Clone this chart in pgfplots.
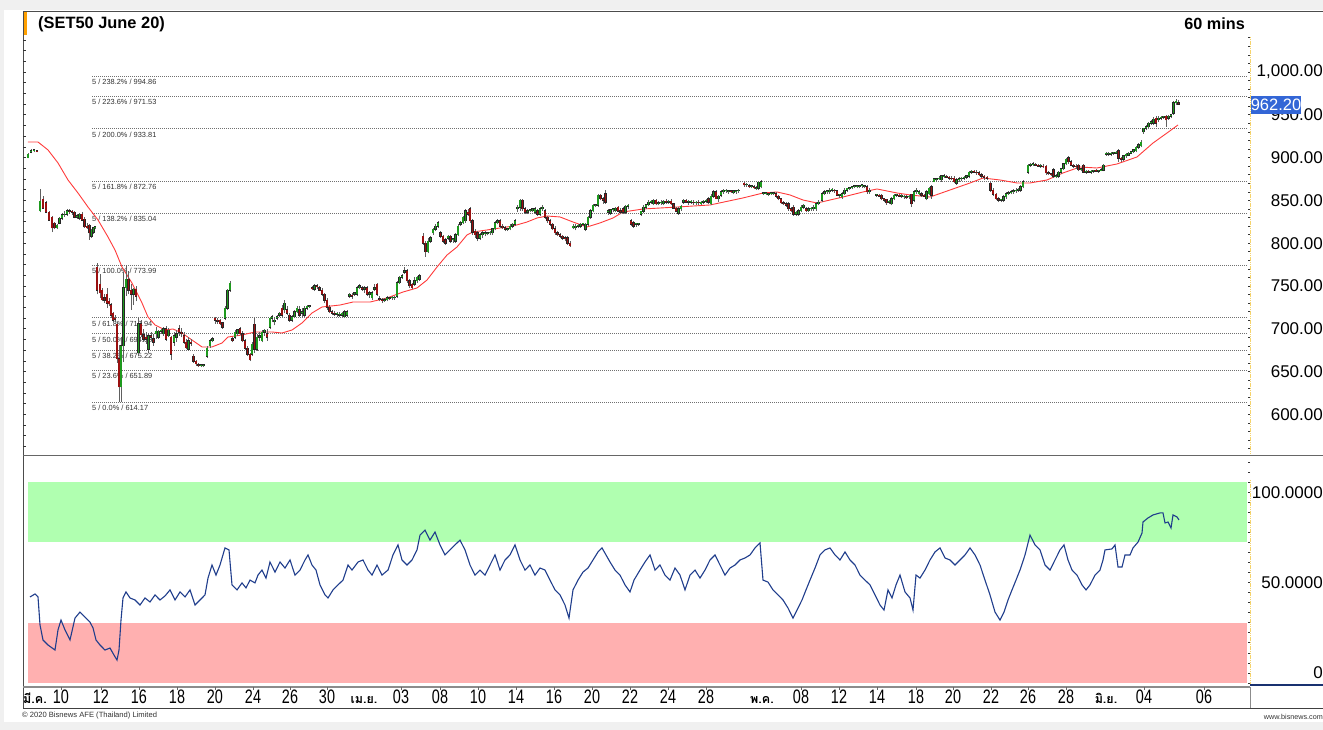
\documentclass[border=0pt]{standalone}
\usepackage{pgfplots}
\pgfplotsset{compat=1.18}
\usepackage{pgfplotstable}
\usepackage{fontspec}
\setmainfont{Liberation Sans}
\newfontfamily\narrowfont[FakeStretch=0.74]{Liberation Sans}
\newfontfamily\thaifont[Script=Thai]{Loma}
\definecolor{bggray}{HTML}{F0F0F0}
\definecolor{upcol}{HTML}{1E9A1E}
\definecolor{downcol}{HTML}{9A1010}
\definecolor{wickcol}{HTML}{606060}
\definecolor{macol}{HTML}{FF3B3B}
\definecolor{rsicol}{HTML}{1F3D8C}
\definecolor{bandgreen}{HTML}{B0FFB0}
\definecolor{bandred}{HTML}{FFB0B0}
\definecolor{fibcol}{HTML}{707070}
\definecolor{tagblue}{HTML}{3366D6}
\definecolor{goldline}{HTML}{F5D36B}
\definecolor{orangebar}{HTML}{FFA000}

\pgfplotstableread{
x o h l c
28 900 905 899 904
31 906 910 905 908
34 908 910 906 908
37 908 909 906 907
40 838 863 836 849
43 851 855 840 841
46 847 849 835 836
49 836 838 826 827
52 830 832 813 818
54.5 823 825 816 818
57 818 822 816 821
59.5 823 830 822 829
62 829 835 827 833
64.5 833 837 831 834
67 834 840 832 838
69.5 838 840 834 837
72 837 839 833 836
74.5 836 838 829 830
77 830 834 828 832
79.5 829 835 827 834
82 834 836 826 827
84.5 828 830 818 819
87 820 823 817 818
89.5 821 822 804 812
91.5 808 816 806 815
93.5 813 819 811 818
95 818 819 816 818
97 772 777 740 745
100 752 764 736 742
102 745 748 732 734
104.5 736 740 730 733
107 740 748 724 730
109 732 736 726 729
111 728 730 712 716
113 718 720 708 710
115 712 716 708 711
117 705 708 660 665
119 665 681 614 632
121 632 690 614 680
123.5 680 766 661 748
126 748 775 738 758
128.5 758 768 740 745
131 745 752 722 740
133.5 740 748 728 746
136 746 750 732 738
138.5 672 712 668 706
141 706 710 690 693
143.5 693 700 685 688
146 690 696 682 688
148.5 676 695 672 692
151 692 696 686 690
153.5 688 694 680 684
156 694 702 688 697
158.5 690 699 688 697
161 697 700 694 698
163.5 694 702 692 700
166 700 703 686 688
168.5 692 701 690 698
171 690 692 664 670
174 684 696 680 692
176.5 690 698 685 694
179 700 704 692 696
181.5 696 701 690 694
184 692 696 682 684
186 684 688 676 678
188.5 676 690 674 686
191 684 688 680 683
193.5 668 670 660 662
196 662 664 657 659
198.5 658 660 655 657
201 657 659 655 657
203.5 657 658 655 657
207 668 680 666 677
210 680 688 678 686
212.5 686 690 684 688
215 712 714 706 710
217.5 710 712 706 709
220 710 711 704 706
222.5 707 708 700 702
225 712 726 710 724
227.5 724 746 722 745
230 745 756 743 753
232.5 688 690 684 686
235 690 698 688 696
237.5 694 700 692 699
240 700 702 693 694
242.5 694 697 684 686
245 686 688 675 677
247.5 677 680 668 670
250 670 672 662 664
252 670 684 668 682
254.5 705 712 672 676
257 676 694 674 690
259.5 690 696 686 692
262 686 698 684 696
264.5 696 700 692 698
267 694 700 686 690
270 702 714 700 712
272 712 716 708 714
274.5 708 714 704 710
277 712 716 710 714
279.5 716 720 714 718
282 724 728 714 716
284.5 722 734 718 730
287 722 726 716 718
289.5 716 718 708 710
292 710 716 708 714
294.5 714 722 712 720
297 720 726 718 724
299.5 722 726 714 716
302 718 724 714 720
304.5 716 726 714 724
307 724 728 722 726
309.5 726 728 724 726
312 748 750 745 747
314.5 746 752 744 750
317 750 752 747 749
319.5 748 750 744 745
322 745 748 738 740
324.5 740 742 730 733
327 733 736 722 725
329.5 725 728 718 720
332 720 722 716 718
334.5 718 721 715 717
337 717 720 714 718
339.5 716 720 714 717
342 716 720 714 718
344.5 714 722 712 720
347 716 722 714 720
349.5 738 742 736 740
352 739 742 735 738
354.5 740 743 738 742
357 740 750 738 748
359.5 748 752 746 750
362 748 750 744 746
364.5 746 750 742 748
367 748 750 738 740
369.5 740 744 736 742
372 736 744 734 742
374.5 746 752 744 748
377 752 754 738 740
379.5 735 738 732 734
382 734 736 730 733
384.5 733 736 731 734
387 734 738 732 736
389.5 736 737 733 735
392 736 738 734 736
394.5 736 738 734 737
397 738 756 736 754
399.5 754 762 752 760
402 760 764 758 762
404.5 766 772 764 768
407 768 770 754 756
409.5 756 758 748 750
412 752 754 746 748
414.5 752 760 750 756
417 756 762 754 760
419.5 758 764 756 762
423 808 812 798 800
425.5 800 802 784 790
428 790 806 788 802
430.5 802 808 800 806
433 812 818 810 816
435.5 816 822 814 820
438 820 826 818 824
440.5 812 814 806 808
443 808 810 800 802
445.5 804 806 798 800
448 806 810 804 808
450.5 808 810 800 802
453 804 806 800 805
455.5 802 812 800 810
458 810 822 808 820
460.5 822 826 820 824
463 824 832 822 830
465.5 826 840 824 838
468 836 840 832 834
470 840 842 824 826
472.5 826 828 810 813
475 814 816 806 810
477.5 812 814 802 806
480 806 812 804 810
482.5 810 814 806 812
485 811 814 808 812
487.5 811 813 809 811
490 812 814 810 812
492.5 812 818 810 817
495 817 826 815 824
497.5 824 828 822 826
500 826 828 818 820
502.5 820 822 816 818
505 818 820 814 816
507.5 816 818 814 817
510 817 822 815 820
512.5 820 824 818 822
515 822 828 820 826
517.5 840 844 836 842
520 842 852 838 850
522.5 850 852 838 840
525 840 842 834 836
527.5 836 840 834 838
530 838 840 836 838
532.5 838 841 836 840
535 836 842 834 840
537.5 838 840 832 834
540 834 842 832 840
542.5 840 844 838 842
545 838 840 828 830
547.5 830 832 824 826
550 826 828 820 822
552.5 822 824 815 817
555 817 820 810 812
557.5 812 814 808 810
560 810 812 806 808
562.5 808 810 804 806
565 806 808 802 805
567.5 806 808 798 800
570 800 802 796 797
573 818 822 816 820
575.5 818 822 815 820
578 820 822 818 821
580.5 820 824 818 822
583 822 824 820 823
585.5 816 824 814 822
588 822 832 820 830
590.5 830 840 828 838
593 838 846 836 844
595.5 844 846 842 845
598 844 858 842 856
600.5 856 858 850 852
603 852 854 846 850
605.5 858 862 846 848
608 836 840 833 838
610.5 835 840 833 839
613 839 841 836 840
615.5 838 842 836 841
618 842 843 836 837
620.5 838 841 834 836
623 840 842 834 836
625.5 836 845 834 843
628 843 846 840 844
631 826 828 820 822
633.5 824 826 818 820
636 822 824 819 822
638.5 822 824 820 823
641 834 838 832 837
643.5 837 844 835 842
646 842 846 840 845
648.5 845 850 843 848
651 848 850 846 849
653.5 846 852 844 850
656 850 851 844 846
658.5 846 849 844 847
661 847 850 845 848
663.5 846 850 844 849
666 849 851 846 848
668.5 848 850 846 849
671 849 851 845 846
673.5 846 847 840 841
676 841 842 836 837
678.5 835 842 833 840
681 840 845 838 843
683.5 848 851 846 850
686 850 851 847 848
688.5 848 850 844 849
691 848 850 846 849
693.5 848 850 845 847
696 847 849 845 848
698.5 848 850 845 847
701 846 849 844 848
703.5 848 850 846 849
706 849 851 847 850
708.5 852 854 846 848
711 846 857 844 855
713.5 855 862 853 860
716 860 862 851 852
718.5 852 856 848 855
721 856 862 854 860
723.5 860 863 858 862
726 861 863 859 862
728.5 860 862 858 861
731 861 862 859 860
733.5 859 862 857 861
736 860 862 858 861
738.5 861 863 859 862
744 870 872 866 868
746.5 868 870 866 868
749 867 869 865 866
751.5 866 868 864 866
754 866 868 863 865
756.5 864 867 862 865
758.5 864 872 862 871
761 866 874 864 872
763.5 858 860 856 858
766 858 860 856 858
768.5 857 859 855 857
771 858 860 856 858
773.5 858 860 856 859
776 858 860 853 855
778.5 855 856 850 852
781 852 853 846 847
783.5 847 849 844 846
786 846 848 842 844
788.5 846 848 838 840
791 840 842 836 838
793.5 842 844 832 834
796 834 838 832 836
798.5 834 840 832 838
801 838 844 836 842
803.5 842 846 840 844
806 840 842 836 838
808.5 838 842 836 840
811 840 842 838 841
813.5 840 844 838 842
816 840 848 838 846
818.5 846 850 844 848
822 850 860 848 858
824.5 858 862 856 860
827 860 862 858 860
829.5 860 864 858 862
832 862 864 860 862
834.5 862 863 859 861
837 861 862 855 856
839.5 856 858 853 856
842 854 860 852 858
844.5 858 864 856 862
847 862 865 860 864
849.5 864 866 862 865
852 865 867 863 866
854.5 866 868 864 867
857 866 868 864 866
859.5 866 868 864 867
862 867 869 865 868
864.5 866 868 864 866
867 866 868 858 860
869.5 860 864 858 862
876.5 856 858 854 856
879 856 858 854 855
881.5 856 857 850 852
884 852 853 848 850
886.5 851 852 845 847
889 848 850 846 849
891.5 846 854 844 852
894 852 858 850 856
896.5 856 858 854 857
899 856 858 854 855
901.5 855 857 853 856
904 854 856 852 854
906.5 854 856 852 853
909 854 856 852 855
911.5 857 858 842 846
914 850 862 848 860
916.5 860 864 858 862
919 858 862 856 860
921.5 858 860 854 856
924 856 858 854 855
926.5 852 862 850 860
929 858 866 856 864
931.5 866 868 852 856
934 872 876 871 875
936.5 874 876 872 875
939 875 878 874 876
941.5 874 880 872 879
944 878 881 876 879
946.5 878 880 876 877
949 877 879 874 876
951.5 876 878 874 875
954 876 878 870 872
956.5 870 876 868 874
959 874 877 872 875
961.5 875 877 873 876
964 876 878 874 877
966.5 877 880 875 879
969 878 884 876 883
971.5 883 886 881 884
974 884 886 882 883
976.5 883 886 880 882
979 882 884 878 880
981.5 880 882 876 878
984 878 880 874 877
987 877 879 874 876
990.5 870 872 860 862
993 862 864 855 857
996 857 859 850 852
998.5 852 854 848 850
1001 850 852 848 851
1003.5 850 856 848 854
1006 854 860 852 858
1008.5 858 861 856 859
1011 859 862 857 860
1013.5 860 863 858 861
1016 861 864 859 862
1018.5 862 864 860 863
1020.5 862 868 860 866
1023 866 874 864 872
1028 883 893 881 891
1030.5 891 894 889 892
1033 892 895 890 893
1035.5 892 894 890 891
1038 891 893 889 890
1040.5 890 892 888 890
1043 890 892 888 889
1046 890 891 880 882
1048.5 882 884 880 881
1051 881 882 878 880
1053.5 886 888 876 878
1056 878 881 876 879
1058.5 878 884 876 883
1061 883 888 881 887
1063.5 887 894 885 893
1066 893 900 891 898
1068.5 900 902 893 895
1071 895 897 890 891
1073.5 891 893 888 890
1076 890 892 887 889
1078.5 891 892 884 886
1081 886 888 884 887
1083.5 891 892 882 883
1086 883 886 881 884
1088.5 884 886 882 883
1091 883 885 881 884
1093.5 884 886 882 885
1096 885 887 883 884
1098.5 884 886 882 885
1101 885 888 884 886
1103.5 885 892 884 891
1106 904 906 902 904
1108.5 904 906 902 905
1111 904 906 902 904
1113.5 905 907 903 905
1116 905 908 904 906
1118.5 908 910 895 899
1121 899 901 895 898
1123.5 898 903 896 902
1126 902 905 900 904
1128.5 903 906 902 905
1131 905 908 904 907
1133.5 907 910 905 909
1136 908 914 906 912
1138.5 912 917 910 915
1141 914 920 912 918
1143.5 930 935 928 934
1146 934 938 932 936
1148.5 936 942 934 940
1151 940 944 938 942
1153.5 940 947 938 945
1156 946 948 936 940
1158.5 944 948 942 946
1161 946 949 944 947
1163.5 947 949 945 948
1166 948 950 936 944
1168.5 946 950 944 948
1171 948 951 946 950
1173.5 952 966 950 964
1176 964 968 962 966
1178.5 964 967 962 962.2
}\candles

\begin{document}
\begin{tikzpicture}[x=1pt,y=1pt]
% background and frame
\fill[bggray] (0,0) rectangle (1323,730);
\fill[white] (4,8) rectangle (1323,720);
\fill[orangebar] (23,695) rectangle (27,718);

% ---------------- price panel ----------------
\begin{axis}[at={(23pt,275pt)}, anchor=south west, scale only axis,
  width=1227pt, height=419pt, xmin=23, xmax=1250, ymin=552.46, ymax=1042.06,
  hide axis, clip=false]
  % Fibonacci levels
  \pgfplotsinvokeforeach{994.86,971.53,933.81,872.76,835.04,773.99,712.94,694.08,675.22,651.89,614.17}{
    \addplot[fibcol, line width=0.7pt, dash pattern=on 1pt off 1pt] coordinates {(92,#1) (1247,#1)};
  }
  \begin{scope}[every node/.style={anchor=north west, inner sep=0pt, yshift=-3pt,
      font=\fontsize{7.4}{8}\selectfont, text=black!80}]
  \node at (axis cs:92,994.86) {5 / 238.2\% / 994.86};
  \node at (axis cs:92,971.53) {5 / 223.6\% / 971.53};
  \node at (axis cs:92,933.81) {5 / 200.0\% / 933.81};
  \node at (axis cs:92,872.76) {5 / 161.8\% / 872.76};
  \node at (axis cs:92,835.04) {5 / 138.2\% / 835.04};
  \node at (axis cs:92,773.99) {5 / 100.0\% / 773.99};
  \node at (axis cs:92,712.94) {5 / 61.8\% / 712.94};
  \node at (axis cs:92,694.08) {5 / 50.0\% / 694.08};
  \node at (axis cs:92,675.22) {5 / 38.2\% / 675.22};
  \node at (axis cs:92,651.89) {5 / 23.6\% / 651.89};
  \node at (axis cs:92,614.17) {5 / 0.0\% / 614.17};
  \end{scope}
  % moving average
  \addplot[macol, line width=0.9pt] coordinates {
   (28,918.2) (38,918.2) (48,908.9) (58,893.7) (68,873.8) (78,858.6) (88,842.2)
   (98,827.1) (108,807.2) (115,792.0) (122,772.1) (132,753.4) (142,730.1) (148,713.7)
   (155,704.4) (165,698.5) (173,699.7) (182,695.0) (192,686.8) (202,678.7) (212,678.7)
   (222,683.3) (228,690.3) (242,692.7) (255,696.2) (272,696.2) (282,695.0) (292,698.5)
   (302,706.7) (312,718.4) (322,725.4) (340,727.7) (353,731.2) (370,731.2) (387,735.9)
   (403,742.9) (417,747.6) (427,756.9) (437,772.1) (447,786.1) (457,795.5) (467,809.6)
   (473,813.0) (487,815.4) (500,817.7) (513,820.0) (527,824.7) (537,829.4) (547,831.7)
   (560,830.6) (573,824.7) (587,818.9) (600,823.6) (613,829.4) (623,836.4) (643,839.9)
   (677,842.2) (710,844.6) (743,852.8) (763,858.6) (777,859.8) (790,856.3) (803,850.4)
   (817,846.9) (830,850.4) (843,853.9) (863,859.8) (877,863.3) (897,858.6) (910,856.3)
   (930,853.9) (950,862.1) (970,870.3) (983,876.1) (1000,873.8) (1017,870.3) (1030,870.3)
   (1047,873.8) (1063,882.0) (1080,889.0) (1097,887.8) (1117,892.5) (1137,900.7)
   (1153,917.0) (1167,928.7) (1178,938.1)};
  % candles: wicks
  \addplot[wickcol, line width=0.7pt, quiver={u=0, v={\thisrow{h}-\thisrow{l}}}]
    table[x=x, y=l] {\candles};
  % candles: body outlines
  \addplot[black!85, line width=2.3pt,
    quiver={u=0, v={max(abs(\thisrow{c}-\thisrow{o}),1)+1.2}}]
    table[x=x, y expr={min(\thisrow{o},\thisrow{c})-0.6}] {\candles};
  % candles: up bodies
  \addplot[upcol, line width=1.3pt,
    quiver={u=0, v={max(abs(\thisrow{c}-\thisrow{o}),1)}},
    x filter/.expression={\thisrow{c}>=\thisrow{o} ? x : nan}]
    table[x=x, y expr={min(\thisrow{o},\thisrow{c})}] {\candles};
  % candles: down bodies
  \addplot[downcol, line width=1.3pt,
    quiver={u=0, v={max(abs(\thisrow{c}-\thisrow{o}),1)}},
    x filter/.expression={\thisrow{c}<\thisrow{o} ? x : nan}]
    table[x=x, y expr={min(\thisrow{o},\thisrow{c})}] {\candles};
\end{axis}

% ---------------- RSI panel ----------------
\begin{axis}[at={(23pt,45pt)}, anchor=south west, scale only axis,
  width=1227pt, height=227pt, xmin=23, xmax=1250, ymin=-0.99, ymax=111.94,
  hide axis, clip=false]
  \fill[bandgreen] (axis cs:28,70) rectangle (axis cs:1247,100);
  \fill[bandred] (axis cs:28,0) rectangle (axis cs:1247,30);
  \addplot[rsicol, line width=1.1pt] coordinates {
(30,42.8) (35,44.3) (38,42.8) (40,28.9) (43,21.4) (48,18.9) (55,16.4) (58,26.4) (61,31.3) (65,26.4) (70,21.4) (75,32.3) (80,35.3) (85,32.8) (90,30.3) (93,27.4) (96,21.4) (100,18.9) (105,16.4) (110,17.4) (114,13.9) (117,11.4) (119,16.4) (121,31.3) (123,42.3) (126,45.3) (130,42.3) (135,41.3) (140,38.8) (145,42.3) (150,40.3) (155,43.8) (160,41.3) (165,43.3) (170,46.3) (175,41.3) (180,45.3) (185,42.8) (190,46.3) (195,38.8) (200,41.3) (205,43.8) (208,52.2) (212,58.7) (216,53.7) (220,58.7) (225,67.2) (229,66.2) (232,48.8) (237,46.3) (242,49.8) (246,47.3) (250,51.2) (255,49.8) (258,53.7) (262,56.2) (266,52.2) (270,60.2) (275,55.2) (280,60.2) (285,57.2) (290,61.2) (295,53.7) (300,56.2) (305,61.2) (308,63.7) (312,58.7) (316,56.2) (320,48.8) (325,43.8) (328,42.3) (333,46.3) (338,48.8) (343,51.2) (348,58.7) (352,56.2) (358,60.2) (363,61.2) (368,56.2) (372,53.7) (377,58.7) (382,53.7) (388,56.2) (393,63.7) (398,68.7) (402,61.2) (407,58.7) (412,61.2) (417,66.2) (420,73.6) (425,76.1) (430,71.1) (435,75.1) (440,68.7) (445,63.7) (450,66.2) (455,68.7) (460,71.1) (465,66.2) (470,58.7) (475,53.7) (480,56.2) (485,53.7) (490,58.7) (495,63.7) (500,56.2) (505,61.2) (510,63.7) (515,68.7) (520,61.2) (525,56.2) (530,58.7) (535,53.7) (540,57.2) (545,56.2) (550,51.2) (555,46.3) (560,43.8) (565,38.8) (569,32.3) (573,46.3) (578,51.2) (583,55.2) (588,57.2) (593,61.2) (598,65.2) (602,67.2) (606,63.7) (610,60.2) (615,56.2) (620,53.7) (625,48.8) (630,45.3) (634,51.2) (640,56.2) (645,60.2) (650,63.7) (655,56.2) (660,58.7) (665,53.7) (670,51.2) (675,57.2) (680,53.7) (685,46.3) (690,53.7) (695,56.2) (700,52.2) (705,56.2) (710,61.2) (715,63.7) (720,58.7) (725,53.7) (730,57.2) (735,58.7) (740,61.2) (745,62.2) (750,63.7) (755,67.2) (760,69.7) (763,51.2) (768,50.2) (773,46.3) (778,43.8) (783,41.3) (788,37.3) (793,32.3) (797,36.3) (802,41.3) (806,46.3) (810,51.2) (815,57.2) (820,63.7) (825,66.2) (830,67.2) (835,63.7) (840,61.2) (845,65.2) (850,61.2) (855,58.7) (860,53.7) (865,51.2) (870,48.8) (875,43.8) (880,38.8) (884,36.3) (888,46.3) (892,42.3) (896,48.8) (900,53.7) (905,45.3) (910,42.3) (913,36.3) (916,53.7) (920,52.2) (925,56.2) (930,61.2) (935,65.2) (940,67.2) (945,62.2) (950,61.2) (955,58.7) (960,61.2) (965,63.7) (970,67.2) (975,63.7) (980,58.7) (985,51.2) (990,43.8) (995,35.3) (1000,31.3) (1004,35.3) (1008,41.3) (1012,46.3) (1016,51.2) (1020,56.2) (1025,63.7) (1030,73.6) (1035,68.7) (1040,66.2) (1045,58.7) (1050,56.2) (1055,61.2) (1060,66.2) (1064,68.7) (1068,61.2) (1072,56.2) (1077,53.7) (1082,48.8) (1086,46.3) (1090,48.8) (1095,53.7) (1100,56.2) (1103,61.2) (1105,66.2) (1112,66.7) (1115,68.7) (1118,57.7) (1122,57.7) (1125,63.7) (1130,63.7) (1133,67.2) (1138,70.1) (1142,74.6) (1143,80.1) (1148,82.1) (1153,83.6) (1160,84.6) (1163,84.6) (1165,79.6) (1168,80.1) (1171,77.1) (1173,83.6) (1177,82.6) (1179,81.1)};
\end{axis}

% ---------------- frame lines ----------------
\draw[black!70, line width=1pt] (23,718) -- (1323,718);
\draw[black!70, line width=1pt] (23,718) -- (23,22);
\draw[black!60, line width=1.6pt] (23,274.5) -- (1323,274.5);
\draw[black!45, line width=1.2pt] (23,43) -- (1250,43);
\draw[rsicol!80!black, line width=1.2pt] (1250,45) -- (1323,45);
\draw[black!75, line width=1pt] (23,21.5) -- (1323,21.5);
\draw[black!45, line width=0.8pt] (1250,22) -- (1250,43);
\draw[goldline, line width=0.9pt, dash pattern=on 1.2pt off 0.6pt] (1250,693) -- (1250,276);
\draw[goldline, line width=0.9pt, dash pattern=on 1.2pt off 0.6pt] (1250,250) -- (1250,46);

% left edge ticks (price panel)
\foreach \i in {0,...,38} {
  \draw[black!80, line width=0.6pt] (23,{730-72-(1000-(562.5+12.5*\i))*0.8558}) -- ++(3,0);
}
% right minor ticks
\foreach \i in {0,...,48} {
  \draw[black!80, line width=0.6pt] (1250,{730-72-(1000-(560+10*\i))*0.8558}) -- ++(-2.5,0);
}
\foreach \i in {0,...,22} {
  \draw[black!80, line width=0.6pt] (1250,{730-482-(100-5*\i)*2.01+0}) -- ++(-2.5,0);
}

% ---------------- right axis labels ----------------
\begin{scope}[every node/.style={anchor=east, inner sep=0pt, font=\fontsize{17}{17}\selectfont}]
\foreach \p/\t in {1000/{1,000.00},950/950.00,900/900.00,850/850.00,800/800.00,750/750.00,700/700.00,650/650.00,600/600.00} {
  \node at (1323,{730-72-(1000-\p)*0.8558}) {\t};
}
\node at (1323,237) {100.0000};
\node at (1323,147) {50.0000};
\node at (1323,57) {0};
\end{scope}
% last price tag
\fill[tagblue] (1251,616) rectangle (1301,634);
\node[anchor=center, inner sep=0pt, text=white, font=\fontsize{16.5}{17}\selectfont] at (1276,625) {962.20};

% ---------------- titles ----------------
\node[anchor=west, inner sep=0pt, font=\bfseries\fontsize{16.4}{18}\selectfont] at (38,706) {(SET50 June 20)};
\node[anchor=east, inner sep=0pt, font=\bfseries\fontsize{16.2}{18}\selectfont] at (1245,706) {60 mins};

% ---------------- date strip ----------------
\foreach \xx/\lab in {61/10,101/12,139/16,177/18,215/20,253/24,290/26,327/30,401/03,440/08,478/10,516/14,554/16,592/20,630/22,668/24,706/28,801/08,839/12,877/14,916/18,953/20,991/22,1028/26,1066/28,1144/04,1204/06} {
  \draw[black!60, line width=0.6pt] (\xx,43) -- (\xx,40);
  \node[anchor=base, inner sep=0pt, font=\narrowfont\fontsize{19.5}{20}\selectfont] at (\xx,26) {\lab};
}
\foreach \xx/\lab in {35/มี.ค.,364/เม.ย.,762/พ.ค.,1106/มิ.ย.} {
  \node[anchor=base, inner sep=0pt, font=\thaifont\bfseries\fontsize{12.5}{13}\selectfont] at (\xx,26) {\lab};
}

% ---------------- footer ----------------
\node[anchor=west, inner sep=0pt, text=black!80, font=\fontsize{7.6}{8}\selectfont] at (22,14) {\textcopyright{} 2020 Bisnews AFE (Thailand) Limited};
\node[anchor=east, inner sep=0pt, text=black!80, font=\fontsize{7.2}{8}\selectfont] at (1323,13) {www.bisnews.com};

\pgfresetboundingbox
\useasboundingbox (0,0) rectangle (1323,730);
\end{tikzpicture}
\end{document}
